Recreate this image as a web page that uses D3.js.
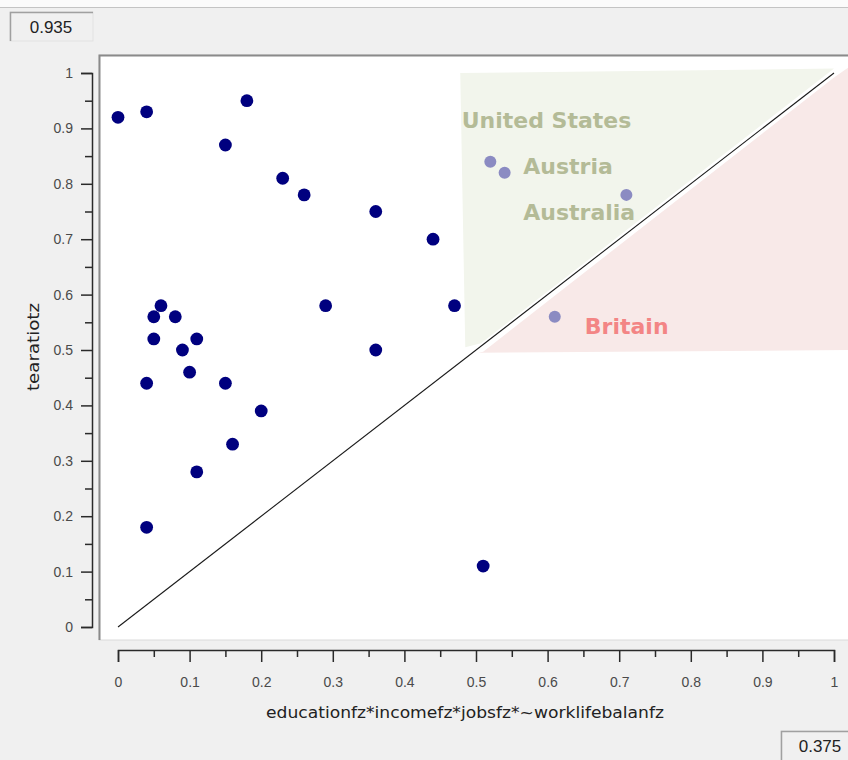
<!DOCTYPE html>
<html>
<head>
<meta charset="utf-8">
<script src="https://cdn.jsdelivr.net/npm/d3@7"></script>
<style>
  html, body { margin: 0; padding: 0; background: #f0f0f0; }
  svg { display: block; }
</style>
</head>
<body>
<svg id="chart" width="848" height="760"></svg>
<script>
// ---- data ----
const pointX = [0, 0.04, 0.18, 0.15, 0.23, 0.26, 0.36, 0.44, 0.06, 0.05, 0.08, 0.05, 0.11, 0.09, 0.10, 0.04, 0.15, 0.20, 0.16, 0.11, 0.04, 0.29, 0.36, 0.47, 0.51];
const pointY = [0.92, 0.93, 0.95, 0.87, 0.81, 0.78, 0.75, 0.70, 0.58, 0.56, 0.56, 0.52, 0.52, 0.50, 0.46, 0.44, 0.44, 0.39, 0.33, 0.28, 0.18, 0.58, 0.50, 0.58, 0.11];
const highlightX = [0.52, 0.54, 0.71, 0.61];
const highlightY = [0.84, 0.82, 0.78, 0.56];
const labelNames = ["United States", "Austria", "Australia", "Britain"];
const labelX = [0.480, 0.566, 0.566, 0.652];
const labelY = [0.915, 0.832, 0.749, 0.543];
const labelGroup = ["upper", "upper", "upper", "lower"];
const upperRegionX = [0.478, 1.0, 0.507, 0.485];
const upperRegionY = [1.0, 1.008, 0.512, 0.505];
const lowerRegionX = [0.51, 1.0, 1.02, 1.02, 0.503];
const lowerRegionY = [0.497, 0.992, 1.01, 0.50, 0.495];
const diagonal = [0, 1];
const majorTicks = [0, 0.1, 0.2, 0.3, 0.4, 0.5, 0.6, 0.7, 0.8, 0.9, 1];
const minorTicks = [0.05, 0.15, 0.25, 0.35, 0.45, 0.55, 0.65, 0.75, 0.85, 0.95];
const xTitle = "educationfz*incomefz*jobsfz*~worklifebalanfz";
const yTitle = "tearatiotz";
const topBoxText = "0.935";
const bottomBoxText = "0.375";

// ---- layout ----
const svg = d3.select("#chart");
const W = 848, H = 760;
const x = d3.scaleLinear().domain([0, 1]).range([118, 834]);
const y = d3.scaleLinear().domain([0, 1]).range([627, 73]);
const fontAxis = "'Liberation Sans', Arial, sans-serif";
const fontTitle = "'DejaVu Sans', sans-serif";

// window background
svg.append("rect").attr("x", 0).attr("y", 0).attr("width", W).attr("height", H).attr("fill", "#f0f0f0");
svg.append("rect").attr("x", 0).attr("y", 0).attr("width", W).attr("height", 7).attr("fill", "#fbfbfb");
svg.append("line").attr("x1", 0).attr("x2", W).attr("y1", 7.5).attr("y2", 7.5).attr("stroke", "#c4c4c4").attr("stroke-width", 1);

// value boxes
function valueBox(bx, by, bw, bh, txt, tx) {
  const g = svg.append("g");
  g.append("rect").attr("x", bx).attr("y", by).attr("width", bw).attr("height", bh)
    .attr("fill", "#f0f0f0").attr("stroke", "#e2e2e2").attr("stroke-width", 1);
  g.append("path").attr("d", `M${bx + 0.5},${by + bh} V${by + 0.5} H${bx + bw}`)
    .attr("fill", "none").attr("stroke", "#a0a0a0").attr("stroke-width", 1.5);
  g.append("text").attr("x", tx).attr("y", by + bh / 2).attr("dy", "0.36em")
    .attr("font-family", fontAxis).attr("font-size", 17).attr("fill", "#222")
    .attr("text-anchor", "middle").text(txt);
}
valueBox(10, 12, 83, 29, topBoxText, 51);
valueBox(781, 731, 72, 30, bottomBoxText, 820);

// plot panel
svg.append("rect").attr("x", 99).attr("y", 55).attr("width", 760).attr("height", 585)
  .attr("fill", "#ffffff").attr("stroke", "#dadada").attr("stroke-width", 1);
svg.append("path").attr("d", "M99.5,640 V55.5 H860").attr("fill", "none")
  .attr("stroke", "#8a8a8a").attr("stroke-width", 2);

// shaded regions
const poly = (xs, ys) => d3.line()(xs.map((v, i) => [x(v), y(ys[i])])) + "Z";
svg.append("path").attr("d", poly(upperRegionX, upperRegionY)).attr("fill", "#f2f5ec");
svg.append("path").attr("d", poly(lowerRegionX, lowerRegionY)).attr("fill", "#f8e9e8");

// diagonal reference line
svg.append("line")
  .attr("x1", x(diagonal[0])).attr("y1", y(diagonal[0]))
  .attr("x2", x(diagonal[1])).attr("y2", y(diagonal[1]))
  .attr("stroke", "#1a1a1a").attr("stroke-width", 1.1);

// points
svg.append("g").selectAll("circle").data(pointX).join("circle")
  .attr("cx", (d) => x(d)).attr("cy", (d, i) => y(pointY[i]))
  .attr("r", 6.4).attr("fill", "#00007f");
svg.append("g").selectAll("circle").data(highlightX).join("circle")
  .attr("cx", (d) => x(d)).attr("cy", (d, i) => y(highlightY[i]))
  .attr("r", 6).attr("fill", "#8b8bc2");

// labels
svg.append("g").selectAll("text").data(labelNames).join("text")
  .attr("x", (d, i) => x(labelX[i])).attr("y", (d, i) => y(labelY[i]))
  .attr("dy", "0.36em")
  .attr("font-family", fontTitle)
  .attr("font-weight", 700).attr("font-size", 22)
  .attr("fill", (d, i) => labelGroup[i] === "upper" ? "#b4bb97" : "#f38585")
  .text((d) => d);

// y axis
const axisColor = "#2a2a2a";
const tickFmt = (d) => d === 0 || d === 1 ? d3.format("d")(d) : d3.format(".1f")(d);
const gy = svg.append("g").attr("transform", "translate(92,0)")
  .call(d3.axisLeft(y).tickValues(majorTicks).tickSize(11).tickSizeOuter(11).tickPadding(8).tickFormat(tickFmt));
gy.append("g").call(d3.axisLeft(y).tickValues(minorTicks).tickSize(7).tickFormat(""))
  .call((g) => g.select(".domain").remove());
gy.selectAll("path, line").attr("stroke", axisColor).attr("stroke-width", 1.5);
gy.selectAll("text").attr("font-family", fontAxis).attr("font-size", 14).attr("fill", "#4a4a4a");

// x axis
const gx = svg.append("g").attr("transform", "translate(0,650)")
  .call(d3.axisBottom(x).tickValues(majorTicks).tickSize(12).tickSizeOuter(12).tickPadding(15).tickFormat(tickFmt));
gx.append("g").call(d3.axisBottom(x).tickValues(minorTicks).tickSize(7).tickFormat(""))
  .call((g) => g.select(".domain").remove());
gx.selectAll("path, line").attr("stroke", axisColor).attr("stroke-width", 1.5);
gx.selectAll("text").attr("font-family", fontAxis).attr("font-size", 14).attr("fill", "#4a4a4a");

// axis titles
svg.append("text").attr("x", 465).attr("y", 712).attr("dy", "0.36em")
  .attr("text-anchor", "middle").attr("font-family", fontTitle).attr("font-size", 15.5)
  .attr("textLength", 398).attr("lengthAdjust", "spacingAndGlyphs")
  .attr("fill", "#222").text(xTitle);
svg.append("text").attr("transform", "translate(33,347) rotate(-90)").attr("dy", "0.36em")
  .attr("text-anchor", "middle").attr("font-family", fontTitle).attr("font-size", 15.5)
  .attr("textLength", 88).attr("lengthAdjust", "spacingAndGlyphs")
  .attr("fill", "#222").text(yTitle);
</script>
</body>
</html>
